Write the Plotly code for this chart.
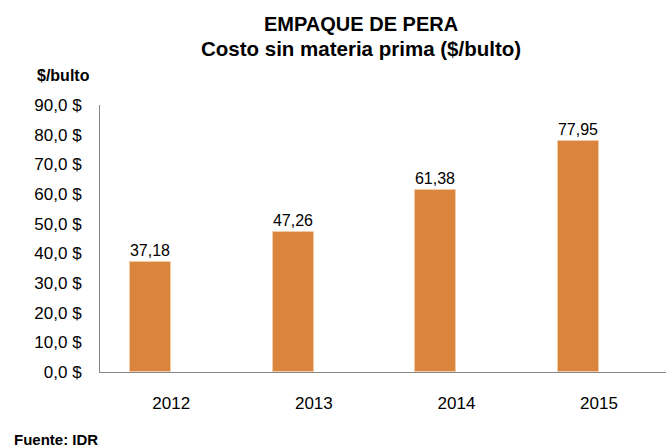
import plotly.graph_objects as go

years = ["2012", "2013", "2014", "2015"]
values = [37.18, 47.26, 61.38, 77.95]
y_ticks = [0, 10, 20, 30, 40, 50, 60, 70, 80, 90]
y_tick_labels = [f"{v:.1f}".replace(".", ",") + " $" for v in y_ticks]
value_labels = [f"{v:.2f}".replace(".", ",") for v in values]

W, H = 666, 447
L, R, T, B = 100, 0, 105, 75
pw, ph = W - L - R, H - T - B

def px(xp):
    return (xp - L) / pw

def py(yp):
    return (H - B - yp) / ph

font = "Liberation Sans, Arial"

fig = go.Figure()
fig.add_trace(go.Bar(
    x=years, y=values,
    width=0.288, offset=-0.288,
    marker=dict(color="#DB843D", line=dict(color="#F2CBA8", width=1)),
    text=value_labels, textposition="outside", cliponaxis=False,
    textfont=dict(family=font, size=16, color="#000000"),
    showlegend=False,
))

fig.update_layout(
    width=W, height=H,
    margin=dict(l=L, r=R, t=T, b=B),
    paper_bgcolor="white", plot_bgcolor="white",
    bargap=0,
    xaxis=dict(type="category", range=[-0.5, 3.47], showgrid=False,
               showline=True, linecolor="#868686", linewidth=1,
               ticks="", ticklabelstandoff=16,
               tickfont=dict(family=font, size=17, color="#000000"),
               zeroline=False, fixedrange=True),
    yaxis=dict(range=[0, 90], tickvals=y_ticks, ticktext=y_tick_labels,
               showgrid=False, showline=True, linecolor="#868686", linewidth=1,
               ticks="", ticklabelstandoff=14,
               tickfont=dict(family=font, size=17, color="#000000"),
               zeroline=False, fixedrange=True),
    annotations=[
        dict(text="<b>EMPAQUE DE PERA</b>", xref="paper", yref="paper",
             x=px(361), y=py(24), xanchor="center", yanchor="middle",
             showarrow=False, font=dict(family=font, size=20, color="#000000")),
        dict(text="<b>Costo sin materia prima ($/bulto)</b>", xref="paper", yref="paper",
             x=px(361), y=py(49), xanchor="center", yanchor="middle",
             showarrow=False, font=dict(family=font, size=20.5, color="#000000")),
        dict(text="<b>$/bulto</b>", xref="paper", yref="paper",
             x=px(35), y=py(76), xanchor="left", yanchor="middle",
             showarrow=False, font=dict(family=font, size=16, color="#000000")),
        dict(text="<b>Fuente: IDR</b>", xref="paper", yref="paper",
             x=px(12), y=py(439), xanchor="left", yanchor="middle",
             showarrow=False, font=dict(family=font, size=15, color="#000000")),
    ],
)

fig.write_html("out.html", config={"displayModeBar": False},
               post_script="document.body.style.margin='0';")
